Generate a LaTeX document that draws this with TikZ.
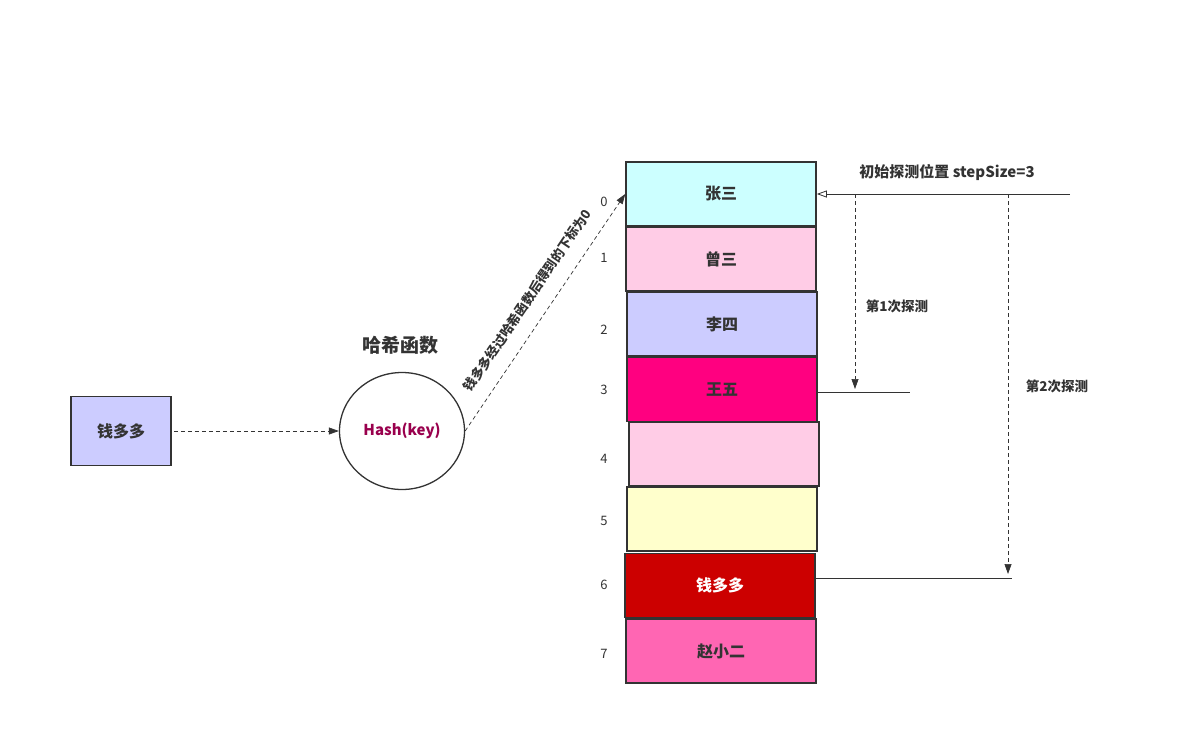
\documentclass[tikz,border=0pt]{standalone}
\usepackage{fontspec}
\setmainfont{Noto Sans CJK SC}
\usetikzlibrary{arrows.meta,shapes.geometric}

\definecolor{linegray}{HTML}{333333}
\definecolor{textgray}{HTML}{333333}
\definecolor{cellcyan}{HTML}{CCFFFF}
\definecolor{cellpink}{HTML}{FFCCE6}
\definecolor{celllav}{HTML}{CCCCFF}
\definecolor{cellmag}{HTML}{FF0080}
\definecolor{cellyel}{HTML}{FFFFCC}
\definecolor{cellred}{HTML}{CC0000}
\definecolor{cellhot}{HTML}{FF66B3}
\definecolor{hashtext}{HTML}{99004D}

\begin{document}
\begin{tikzpicture}[x=1pt, y=-1pt,
        cell/.style={rectangle, draw=linegray, line width=1.6pt, minimum width=190pt, minimum height=64pt, inner sep=0pt, text=textgray, font=\fontsize{16}{16}\selectfont\bfseries},
        idx/.style={text=textgray, font=\fontsize{13}{13}\selectfont},
        lbl/.style={text=textgray, font=\fontsize{13}{13}\selectfont\bfseries},
        dasharrow/.style={-{Triangle[length=10pt,width=7pt]}, draw=linegray, line width=0.7pt, dash pattern=on 4pt off 3pt},
        plainline/.style={-, draw=linegray, line width=0.8pt}]
            \useasboundingbox (0,0) rectangle (1199,744);

            % key and hash function
            \node[rectangle, draw=linegray, line width=1.6pt, fill=celllav, minimum width=100pt, minimum height=69pt, inner sep=0pt, text=textgray, font=\fontsize{16}{16}\selectfont\bfseries] (key) at ( 121 , 431 ) {钱多多};
            \node[ellipse, draw=linegray, line width=1.3pt, minimum width=125pt, minimum height=117pt, inner sep=0pt, text=hashtext, font=\fontsize{15}{15}\selectfont\bfseries] (hash) at ( 402 , 431 ) {Hash(key)};
            \node[text=textgray, font=\fontsize{19}{19}\selectfont\bfseries] (hashtitle) at ( 400 , 345 ) {哈希函数};

            % table
            \node[cell, fill=cellcyan] (c0) at ( 721 , 194 )   {张三};
            \node[cell, fill=cellpink] (c1) at ( 721 , 259 )   {曾三};
            \node[cell, fill=celllav]  (c2) at ( 722 , 324 )   {李四};
            \node[cell, fill=cellmag]  (c3) at ( 722 , 389.5 ) {王五};
            \node[cell, fill=cellpink] (c4) at ( 724 , 454 )   {};
            \node[cell, fill=cellyel]  (c5) at ( 722 , 519 )   {};
            \node[cell, fill=cellred, text=white] (c6) at ( 720 , 585.5 ) {钱多多};
            \node[cell, fill=cellhot]  (c7) at ( 721 , 651 )   {赵小二};

            \node[idx] (i0) at ( 604 , 202 ) {0};
            \node[idx] (i1) at ( 604 , 258 ) {1};
            \node[idx] (i2) at ( 604 , 330 ) {2};
            \node[idx] (i3) at ( 604 , 390 ) {3};
            \node[idx] (i4) at ( 604 , 459 ) {4};
            \node[idx] (i5) at ( 604 , 521 ) {5};
            \node[idx] (i6) at ( 604 , 585 ) {6};
            \node[idx] (i7) at ( 604 , 654 ) {7};

            \draw[dasharrow, shorten <=2pt] (key.east) -- (hash.west);
            \draw[dasharrow] (hash.east) -- (c0.west)
                node[midway, sloped, above=15pt, inner sep=0pt, lbl] (hashlbl) {钱多多经过哈希函数后得到的下标为0};

            % probing
            \coordinate (start) at ( 1070 , 194 );
            \coordinate (s1) at ( 855 , 194 );
            \coordinate (e1) at ( 855 , 389 );
            \coordinate (m1) at ( 910 , 392 );
            \coordinate (s2) at ( 1008 , 194 );
            \coordinate (e2) at ( 1008 , 574 );
            \coordinate (m2) at ( 1012 , 578 );

            \draw[plainline, -{Triangle[open, length=10pt, width=7pt]}] (start) -- (c0.east);
            \draw[dasharrow] (s1) -- (e1);
            \draw[dasharrow] (s2) -- (e2);
            \draw[plainline] (c3.east |- m1) -- (m1);
            \draw[plainline] (c6.east |- m2) -- (m2);

            \node[text=textgray, font=\fontsize{15}{15}\selectfont\bfseries] (startlbl) at ( 947 , 172 ) {初始探测位置 stepSize=3};
            \node[lbl, font=\fontsize{13.5}{13.5}\selectfont\bfseries] (p1lbl) at ( 897 , 306 ) {第1次探测};
            \node[lbl, font=\fontsize{13.5}{13.5}\selectfont\bfseries] (p2lbl) at ( 1057 , 386 ) {第2次探测};
        \end{tikzpicture}
\end{document}
